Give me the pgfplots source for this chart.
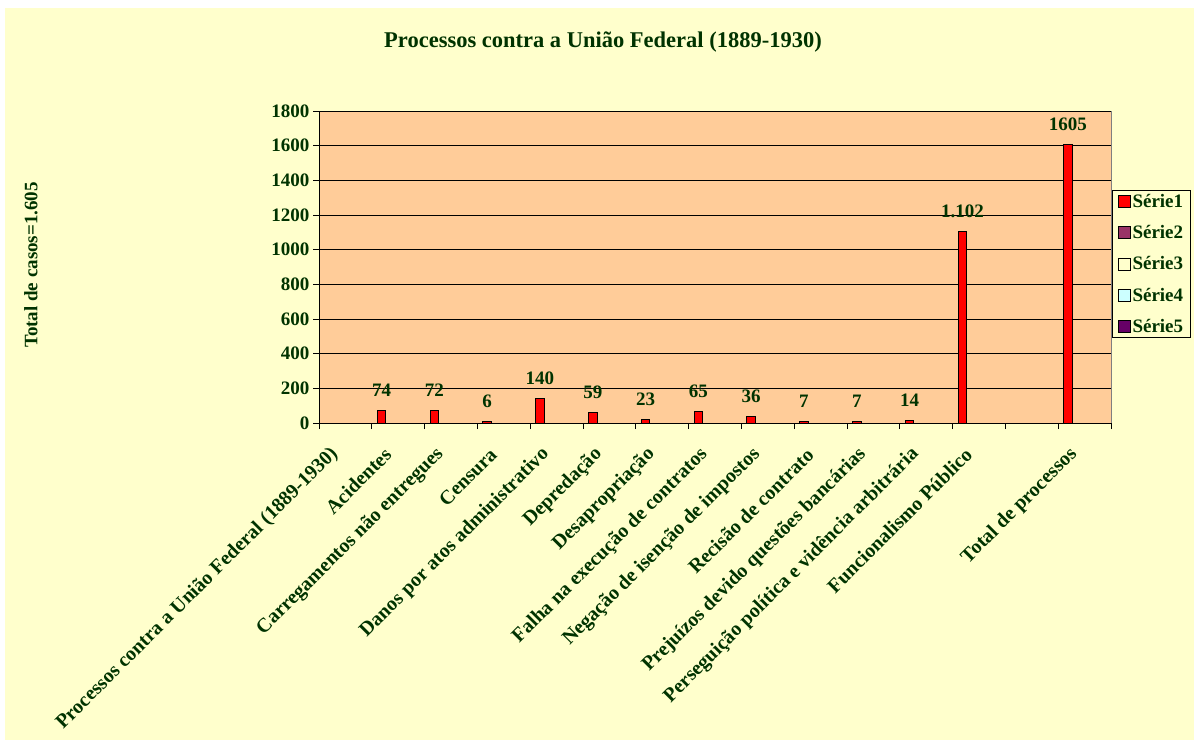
\documentclass[border=0pt]{standalone}
\usepackage{pgfplots}
\pgfplotsset{compat=1.18}
\usepackage{fontspec}
\setmainfont{Liberation Serif}
\definecolor{chartbg}{HTML}{FFFFCC}
\definecolor{plotbg}{HTML}{FFCC99}
\definecolor{txtgreen}{HTML}{003300}
\definecolor{serieB}{HTML}{993366}
\definecolor{serieD}{HTML}{CCFFFF}
\definecolor{serieE}{HTML}{660066}
\newcommand{\lblfont}{\fontsize{19bp}{22bp}\selectfont\bfseries}
\begin{document}
\begin{tikzpicture}
\useasboundingbox (0,0) rectangle (1194bp,-740bp);
\fill[white] (0,0) rectangle (1194bp,-740bp);
\fill[chartbg] (5bp,-8bp) rectangle (1194bp,-740bp);
\node[font=\fontsize{22.5bp}{26bp}\selectfont\bfseries, text=txtgreen] at (603bp,-42bp)
  {Processos contra a União Federal (1889-1930)};
\node[rotate=90, font=\lblfont, text=txtgreen] at (31bp,-265bp) {Total de casos=1.605};
\begin{axis}[
  at={(319bp,-423bp)}, anchor=south west,
  scale only axis, width=792bp, height=312bp,
  xmin=0, xmax=15, ymin=0, ymax=1800,
  axis background/.style={fill=plotbg, draw=gray, line width=1bp},
  axis x line*=bottom, axis y line*=left,
  axis line style={-, black, line width=1bp},
  tick align=outside, major tick length=6bp,
  tick style={black, line width=0.8bp},
  ytick={0,200,...,1800},
  ymajorgrids, grid style={black, line width=0.8bp},
  xtick={0,1,...,15}, xticklabels={},
  extra x ticks={0.5,1.5,...,14.5},
  extra x tick labels={Processos contra a União Federal (1889-1930), Acidentes,
    Carregamentos não entregues, Censura, Danos por atos administrativo, Depredação,
    Desapropriação, Falha na execução de contratos, Negação de isenção de impostos,
    Recisão de contrato, Prejuízos devido questões bancárias,
    Perseguição política e vidência arbitrária, Funcionalismo Público, {}, Total de processos},
  extra x tick style={major tick length=0pt},
  ticklabel style={font=\lblfont, text=txtgreen},
  xticklabel style={font=\fontsize{20bp}{23bp}\selectfont\bfseries,
    xshift=-8bp, yshift=-26bp, rotate=45, anchor=east},
  /pgf/number format/assume math mode=true,
  /pgf/number format/1000 sep={},
  legend image code/.code={\draw[#1, line width=1bp] (1bp,-6bp) rectangle (13bp,6bp);},
  legend style={at={(1,0.5)}, anchor=west, xshift=1bp, yshift=3bp, fill=chartbg,
    draw=black, line width=1bp, font=\lblfont, text=txtgreen, row sep=12.5bp,
    inner xsep=5bp, inner ysep=2bp},
  legend cell align=left,
]
\addplot[ybar, forget plot, bar width=0.165, bar shift=0, fill=red, draw=black,
  line width=1bp, point meta=explicit symbolic, nodes near coords,
  every node near coord/.append style={font=\lblfont, text=txtgreen, anchor=south, yshift=10bp}]
  coordinates {
  (1.185,74)[74] (2.185,72)[72] (3.185,6)[6] (4.185,140)[140] (5.185,59)[59] (6.185,23)[23]
  (7.185,65)[65] (8.185,36)[36] (9.185,7)[7] (10.185,7)[7] (11.185,14)[14]
  (12.185,1102)[1.102] (14.185,1605)[1605]
  };
\addlegendimage{fill=red, draw=black}
\addlegendentry{Série1}
\addlegendimage{fill=serieB, draw=black}
\addlegendentry{Série2}
\addlegendimage{fill=chartbg, draw=black}
\addlegendentry{Série3}
\addlegendimage{fill=serieD, draw=black}
\addlegendentry{Série4}
\addlegendimage{fill=serieE, draw=black}
\addlegendentry{Série5}
\end{axis}
\end{tikzpicture}
\end{document}
